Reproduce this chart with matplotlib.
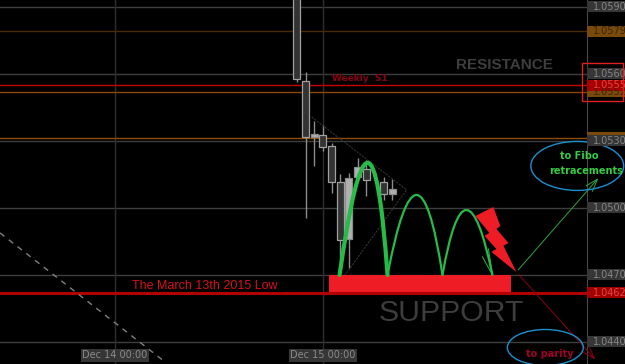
import numpy as np
import matplotlib
matplotlib.use('Agg')
import matplotlib.pyplot as plt
import matplotlib.transforms as mtransforms
from matplotlib.patches import Rectangle, Ellipse, Polygon, PathPatch
from matplotlib.path import Path

# hourly EURUSD candles, x = hours after Dec 14 00:00
hours = [21, 22, 23, 24, 25, 26, 27, 28, 29, 31, 32]
opens = [1.0600, 1.05569, 1.05318, 1.05327, 1.05278, 1.05116, 1.04861, 1.05139, 1.05175, 1.05116, 1.05063]
highs = [1.0605, 1.05609, 1.05390, 1.05372, 1.05291, 1.05152, 1.05157, 1.05224, 1.05215, 1.05139, 1.05130]
lows = [1.05564, 1.04955, 1.05188, 1.05255, 1.05067, 1.04709, 1.04731, 1.05130, 1.05054, 1.05036, 1.05036]
closes = [1.05578, 1.05318, 1.05331, 1.05273, 1.05116, 1.04857, 1.05134, 1.05184, 1.05125, 1.05063, 1.05085]

grid_prices = [1.0590, 1.0560, 1.0530, 1.0500, 1.0470, 1.0440]
date_ticks = [0, 24]
date_labels = ['Dec 14 00:00', 'Dec 15 00:00']

# pivot / level lines
orange_levels = [1.0579, 1.0552, 1.05315]
orange_colors = ['#4a2a02', '#8a4a06', '#8f4c06']
weekly_s1 = 1.0555
march_low = 1.0462

# right side price tags (price, text, box, text colour) - drawn in order
tag_prices = [1.0590, 1.0579, 1.0560, 1.0552, 1.0555, 1.05315, 1.0530, 1.0500, 1.0470, 1.0462, 1.0440]
tag_texts = ['1.0590', '1.0579', '1.0560', '1.0552', '1.0555', '', '1.0530', '1.0500', '1.0470', '1.0462', '1.0440']
tag_box = ['#363636', '#7a4a0c', '#363636', '#7a4a0c', '#a80000', '#7a4a0c', '#363636', '#363636', '#363636', '#a00000', '#363636']
tag_txt = ['#858585', '#3c2406', '#858585', '#3c2406', '#e04848', '#3c2406', '#858585', '#858585', '#858585', '#e04848', '#858585']

# support zone
zone_x = [24.65, 45.74]
zone_y = [1.04625, 1.0470]

# bounce arcs off support
arc_start = [25.92, 31.45, 37.79]
arc_peak_x = [29.15, 34.79, 40.55]
arc_end = [31.45, 37.79, 43.55]
arc_peak = [1.05202, 1.05058, 1.04991]
arc_lw = [3.0, 1.6, 1.6]
arc_base = 1.0470

# lightning bolt outline
bolt_x = [41.59, 43.66, 44.47, 44.01, 45.39, 44.82, 46.31, 43.43, 44.01, 42.63, 43.20]
bolt_y = [1.04964, 1.05004, 1.04919, 1.04906, 1.04843, 1.04830, 1.04713, 1.04803, 1.04816, 1.04875, 1.04888]

fig = plt.figure(figsize=(6.25, 3.64), dpi=100, facecolor='black')
ax = fig.add_axes([0, 0, 587 / 625, 1])
ax.set_facecolor('black')
ax.set_xlim(-13.25, 54.46)
ax.set_ylim(1.04301, 1.05931)
ax.set_xticks([])
ax.set_yticks([])
for s in ['top', 'left', 'bottom']:
    ax.spines[s].set_visible(False)
ax.spines['right'].set_color('#4a4a4a')

for p in grid_prices:
    ax.axhline(p, color='#3e3e3e', lw=1, zorder=1)
for t in date_ticks:
    ax.axvline(t, color='#2e2e2e', lw=1, zorder=1)
for p, c in zip(orange_levels, orange_colors):
    ax.axhline(p, color=c, lw=1, zorder=1.5)
ax.axhline(weekly_s1, color='#c80000', lw=1, zorder=1.5)
ax.axhline(march_low, color='#b00000', lw=2.2, zorder=1.5)

# candles
for h, o, hi, lo, c in zip(hours, opens, highs, lows, closes):
    ax.vlines(h, lo, hi, color='#8c8c8c', lw=1, zorder=2)
    bull = c >= o
    ax.add_patch(Rectangle((h - 0.4, min(o, c)), 0.8, abs(c - o),
                           facecolor='#b0b0b0' if bull else '#333333',
                           edgecolor='#8c8c8c' if bull else '#a0a0a0', lw=0.9, zorder=3))

# trend lines
ax.plot([-13.25, 5.76], [1.04888, 1.04311], color='#808080', lw=1, dashes=(4, 4), zorder=2)
ax.plot([22.7, 33.64, 26.5], [1.05407, 1.05081, 1.04696], color='#333333', lw=0.8,
        ls=(0, (2, 1)), zorder=2.5)

ax.add_patch(Rectangle((zone_x[0], zone_y[0]), zone_x[1] - zone_x[0], zone_y[1] - zone_y[0],
                       facecolor='#ee1c25', edgecolor='none', zorder=4))

for x0, xp, x1, yp, lw in zip(arc_start, arc_peak_x, arc_end, arc_peak, arc_lw):
    cx = 2 * xp - (x0 + x1) / 2
    cy = 2 * yp - arc_base
    path = Path([(x0, arc_base), (cx, cy), (x1, arc_base)], [Path.MOVETO, Path.CURVE3, Path.CURVE3])
    ax.add_patch(PathPatch(path, fill=False, edgecolor='#27bb47', lw=lw, zorder=5, capstyle='round'))
ax.plot([42.4, 43.55], [1.04781, 1.0470], color='#27bb47', lw=0.7, zorder=5)
ax.plot([43.09, 43.55], [1.04816, 1.0470], color='#27bb47', lw=0.7, zorder=5)

ax.add_patch(Polygon(np.column_stack([bolt_x, bolt_y]), closed=True, facecolor='#ee1c25',
                     edgecolor='none', zorder=6))

# arrows to targets
ax.annotate('', xy=(55.99, 1.05143), xytext=(46.31, 1.04713), annotation_clip=False,
            arrowprops=dict(arrowstyle='->,head_length=0.9,head_width=0.3', color='#2aa63f', lw=0.7))
ax.annotate('', xy=(55.65, 1.04311), xytext=(46.31, 1.04713), annotation_clip=False,
            arrowprops=dict(arrowstyle='->,head_length=0.9,head_width=0.3', color='#8a0018', lw=0.7))

ax.add_patch(Ellipse((53.34, 1.05188), 10.71, 0.002194, fill=False, edgecolor='#1c8fd0', lw=1,
                     clip_on=False, zorder=7))
ax.add_patch(Ellipse((49.65, 1.04375), 8.76, 0.00161, fill=False, edgecolor='#1c8fd0', lw=1,
                     clip_on=False, zorder=7))

ax.text(53.6, 1.05234, 'to Fibo', color='#33cc44', fontsize=7, fontweight='bold', ha='center', va='center', zorder=8)
ax.text(54.3, 1.05167, 'retracements', color='#33cc44', fontsize=7, fontweight='bold', ha='center', va='center', zorder=8)
ax.text(50.2, 1.04347, 'to parity', color='#a0002a', fontsize=7, fontweight='bold', ha='center', va='center', zorder=8)

ax.text(28.23, 1.05578, 'Weekly  S1', color='#8b0014', fontsize=6.5, fontweight='bold', ha='center', va='center', zorder=8)
ax.text(44.99, 1.05640, 'RESISTANCE', color='#3e3e3e', fontsize=11, fontweight='bold',
        family='Liberation Sans', ha='center', va='center', zorder=8)
ax.text(10.37, 1.04651, 'The March 13th 2015 Low', color='#d8101c', fontsize=9,
        family='Liberation Sans', ha='center', va='center', zorder=8)
ax.text(38.76, 1.04528, 'SUPPORT', color='#3d3d3d', fontsize=21.7,
        family='Liberation Sans', ha='center', va='center', zorder=8)

# price tags on the right
tr = mtransforms.blended_transform_factory(ax.transAxes, ax.transData)
hh = 5.5 / 22333
for p, t, bc, tc in zip(tag_prices, tag_texts, tag_box, tag_txt):
    ax.add_patch(Rectangle((1.0, p - hh), 0.07, 2 * hh, transform=tr, facecolor=bc,
                           edgecolor='none', clip_on=False, zorder=9))
    ax.text(1.0102, p, t, transform=tr, color=tc, fontsize=7, ha='left', va='center',
            clip_on=False, zorder=10)
ax.add_patch(Rectangle((582 / 587, 1.05479), 0.07, 1.05649 - 1.05479, transform=tr, fill=False,
                       edgecolor='#e02020', lw=1, clip_on=False, zorder=11))

# time labels
trx = mtransforms.blended_transform_factory(ax.transData, ax.transAxes)
for t, lab in zip(date_ticks, date_labels):
    ax.text(t, 0.024, lab, transform=trx, color='#8a8a8a', fontsize=7, ha='center', va='center',
            bbox=dict(boxstyle='square,pad=0.15', facecolor='#363636', edgecolor='none'), zorder=10)

fig.savefig('out.png', dpi=100, facecolor='black')
